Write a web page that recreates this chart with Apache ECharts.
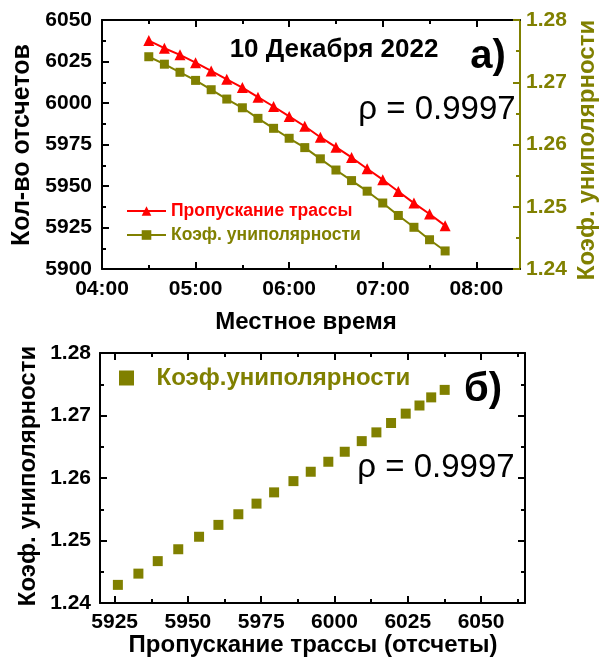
<!DOCTYPE html>
<html><head><meta charset="utf-8">
<script src="https://cdn.jsdelivr.net/npm/echarts@6/dist/echarts.min.js"></script>
<style>html,body{margin:0;padding:0;background:#fff}#c{width:600px;height:664px}</style>
</head><body><div id="c"></div>
<script>
// ---- data ----
const times = ['04:30','04:40','04:50','05:00','05:10','05:20','05:30','05:40','05:50','06:00',
               '06:10','06:20','06:30','06:40','06:50','07:00','07:10','07:20','07:30','07:40'];
const transmission = [6037.6, 6033.0, 6029.0, 6024.3, 6019.3, 6014.3, 6009.3, 6003.5, 5997.9, 5991.9,
                      5986.0, 5979.4, 5973.4, 5967.2, 5960.4, 5953.8, 5946.7, 5939.7, 5933.1, 5926.1];
const unipolarity = [1.2741, 1.2729, 1.2716, 1.2703, 1.2688, 1.2673, 1.2659, 1.2642, 1.2626, 1.2610,
                     1.2595, 1.2577, 1.2559, 1.2542, 1.2525, 1.2506, 1.2486, 1.2467, 1.2447, 1.2429];
const timeTicks = ['04:00','05:00','06:00','07:00','08:00'];
const timeMinorTicks = ['04:30','05:30','06:30','07:30'];
const countTicks = [5900, 5925, 5950, 5975, 6000, 6025, 6050];
const countMinorTicks = [5912.5, 5937.5, 5962.5, 5987.5, 6012.5, 6037.5];
const coefTicks = [1.24, 1.25, 1.26, 1.27, 1.28];
const coefMinorTicks = [1.245, 1.255, 1.265, 1.275];
const transTicks = [5925, 5950, 5975, 6000, 6025, 6050];
const transMinorTicks = [5937.5, 5962.5, 5987.5, 6012.5, 6037.5, 6062.5];
const seriesNames = ['Пропускание трассы', 'Коэф. униполярности'];
const scatterName = 'Коэф.униполярности';

// ---- helpers ----
const toMin = s => { const p = s.split(':'); return (+p[0]) * 60 + (+p[1]); };
const fmtTime = v => { const h = Math.floor(v / 60), m = Math.round(v % 60); return String(h).padStart(2,'0') + ':' + String(m).padStart(2,'0'); };
const FONT = 'Liberation Sans, Arial, sans-serif';
const OLIVE = '#808000';

function ax(o) {
  const color = o.color || '#000';
  return {
    type: 'value', gridIndex: o.grid, position: o.pos, min: o.min, max: o.max,
    splitLine: { show: false },
    axisLine: { show: !!o.line, onZero: false, lineStyle: { color: color, width: 2 } },
    axisTick: { show: true, inside: true, customValues: o.ticks, length: o.minor ? 4 : 7, lineStyle: { color: color, width: 2 } },
    axisLabel: o.labels ? { show: true, customValues: o.ticks, formatter: o.fmt, margin: o.margin,
      color: color, fontFamily: FONT, fontWeight: 'bold', fontSize: 21 } : { show: false, customValues: o.ticks }
  };
}

const xTopMinMax = { min: 240, max: 508 };
const xBotMinMax = { min: 5920, max: 6065 };

const xAxes = [
  ax({ grid: 0, pos: 'bottom', ...xTopMinMax, line: true, ticks: timeTicks.map(toMin), labels: true, fmt: fmtTime, margin: 10 }),
  ax({ grid: 0, pos: 'bottom', ...xTopMinMax, minor: true, ticks: timeMinorTicks.map(toMin) }),
  ax({ grid: 0, pos: 'top', ...xTopMinMax, line: true, ticks: timeTicks.map(toMin) }),
  ax({ grid: 0, pos: 'top', ...xTopMinMax, minor: true, ticks: timeMinorTicks.map(toMin) }),
  ax({ grid: 1, pos: 'bottom', ...xBotMinMax, line: true, ticks: transTicks, labels: true, fmt: v => String(v), margin: 9 }),
  ax({ grid: 1, pos: 'bottom', ...xBotMinMax, minor: true, ticks: transMinorTicks }),
  ax({ grid: 1, pos: 'top', ...xBotMinMax, line: true, ticks: transTicks }),
  ax({ grid: 1, pos: 'top', ...xBotMinMax, minor: true, ticks: transMinorTicks })
];
const yAxes = [
  ax({ grid: 0, pos: 'left', min: 5900, max: 6050, line: true, ticks: countTicks, labels: true, fmt: v => String(v), margin: 10 }),
  ax({ grid: 0, pos: 'left', min: 5900, max: 6050, minor: true, ticks: countMinorTicks }),
  ax({ grid: 0, pos: 'right', min: 1.24, max: 1.28, line: true, color: OLIVE, ticks: coefTicks, labels: true, fmt: v => v.toFixed(2), margin: 6 }),
  ax({ grid: 0, pos: 'right', min: 1.24, max: 1.28, minor: true, color: OLIVE, ticks: coefMinorTicks }),
  ax({ grid: 1, pos: 'left', min: 1.24, max: 1.28, line: true, ticks: coefTicks, labels: true, fmt: v => v.toFixed(2), margin: 9 }),
  ax({ grid: 1, pos: 'left', min: 1.24, max: 1.28, minor: true, ticks: coefMinorTicks }),
  ax({ grid: 1, pos: 'right', min: 1.24, max: 1.28, line: true, ticks: coefTicks }),
  ax({ grid: 1, pos: 'right', min: 1.24, max: 1.28, minor: true, ticks: coefMinorTicks })
];

const txt = (text, x, y, size, opts) => Object.assign({
  type: 'text', x: x, y: y, silent: true, z: 10,
  style: { text: text, fontFamily: FONT, fontSize: size, fontWeight: (opts && opts.weight) || 'bold',
           fill: (opts && opts.color) || '#000', textAlign: 'center', textVerticalAlign: 'middle' }
}, (opts && opts.rot) ? { rotation: opts.rot } : {});

const option = {
  animation: false,
  backgroundColor: '#fff',
  grid: [
    { left: 102, top: 20, width: 418, height: 249, containLabel: false },
    { left: 100, top: 353, width: 425, height: 250, containLabel: false }
  ],
  xAxis: xAxes,
  yAxis: yAxes,
  legend: [
    { orient: 'vertical', left: 121, top: 197, itemWidth: 39, itemHeight: 12, itemGap: 6,
      data: [
        { name: seriesNames[0], textStyle: { color: '#ff0000' } },
        { name: seriesNames[1], textStyle: { color: OLIVE } }
      ],
      textStyle: { fontFamily: FONT, fontWeight: 'bold', fontSize: 17.5 } },
    { orient: 'vertical', left: 114, top: 361, itemWidth: 50, itemHeight: 15, symbolKeepAspect: true,
      data: [{ name: scatterName, icon: 'path://M0 0H10V10H0Z', textStyle: { color: OLIVE } }],
      textStyle: { fontFamily: FONT, fontWeight: 'bold', fontSize: 24 } }
  ],
  series: [
    { name: seriesNames[0], type: 'line', xAxisIndex: 0, yAxisIndex: 0,
      data: times.map((t, i) => [toMin(t), transmission[i]]),
      symbol: 'triangle', symbolSize: 11, color: '#ff0000',
      lineStyle: { width: 2, color: '#ff0000' }, itemStyle: { color: '#ff0000' } },
    { name: seriesNames[1], type: 'line', xAxisIndex: 0, yAxisIndex: 2,
      data: times.map((t, i) => [toMin(t), unipolarity[i]]),
      symbol: 'rect', symbolSize: 9, color: OLIVE,
      lineStyle: { width: 2, color: OLIVE }, itemStyle: { color: OLIVE } },
    { name: scatterName, type: 'scatter', xAxisIndex: 4, yAxisIndex: 4,
      data: transmission.map((v, i) => [v, unipolarity[i]]),
      symbol: 'rect', symbolSize: 10, itemStyle: { color: OLIVE, opacity: 1 } }
  ],
  graphic: [
    txt('Кол-во отсчетов', 22, 145, 25, { rot: Math.PI / 2 }),
    txt('Коэф. униполярности', 587, 150, 24, { rot: Math.PI / 2, color: OLIVE }),
    txt('Местное время', 306, 322, 24),
    txt('Коэф. униполярности', 28, 476, 24, { rot: Math.PI / 2 }),
    txt('Пропускание трассы (отсчеты)', 313, 645, 24),
    txt('10 Декабря 2022', 334, 50, 26),
    txt('а)', 488, 57, 40),
    txt('ρ = 0.9997', 437, 110, 33, { weight: 'normal' }),
    txt('б)', 483, 390, 40),
    txt('ρ = 0.9997', 436, 468, 33, { weight: 'normal' })
  ]
};
const chart = echarts.init(document.getElementById('c'), null, { renderer: 'canvas' });
chart.setOption(option);
</script>
</body></html>
